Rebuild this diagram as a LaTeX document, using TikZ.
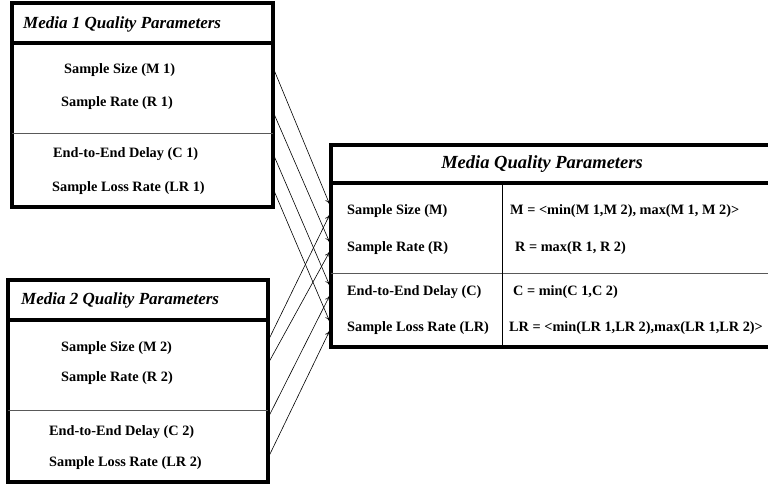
\documentclass[tikz,border=0pt]{standalone}
\usepackage{fontspec}
\setmainfont{Liberation Serif}
\usetikzlibrary{arrows.meta}
\tikzset{
  outer/.style={line width=3.2pt},
  titlediv/.style={line width=3.2pt},
  thindiv/.style={line width=0.9pt, draw=black!65},
  ttl/.style={font=\fontsize{17}{19}\selectfont\bfseries\itshape, inner sep=0pt},
  ttlbig/.style={font=\fontsize{18.5}{20}\selectfont\bfseries\itshape, inner sep=0pt},
  itm/.style={font=\fontsize{14.3}{16}\selectfont\bfseries, inner sep=0pt, anchor=west},
  conn/.style={line width=0.6pt, -{To[length=5pt,width=5pt]}}
}
\begin{document}
\begin{tikzpicture}[x=1pt,y=-1pt]
\useasboundingbox (0,0) rectangle (768,485);
\begin{scope}
\clip (0,0) rectangle (768,485);
% Box 1
\draw[outer] (12,3) rectangle (273,207);
\draw[titlediv] (12,43) -- (273,43);
\draw[thindiv] (12,133) -- (273,133);
\node[ttl, anchor=west] (t1) at (23,24) {Media 1 Quality Parameters};
\node[itm] (m1) at (64,70) {Sample Size (M 1)};
\node[itm] (r1) at (61,103) {Sample Rate (R 1)};
\node[itm] (c1) at (53,154) {End-to-End Delay (C 1)};
\node[itm] (l1) at (52,188) {Sample Loss Rate (LR 1)};
% Box 2
\draw[outer] (8,280) rectangle (268,482);
\draw[titlediv] (8,320) -- (268,320);
\draw[thindiv] (8,410) -- (268,410);
\node[ttl, anchor=west] (t2) at (21,300) {Media 2 Quality Parameters};
\node[itm] (m2) at (61,348) {Sample Size (M 2)};
\node[itm] (r2) at (61,378) {Sample Rate (R 2)};
\node[itm] (c2) at (49,432) {End-to-End Delay (C 2)};
\node[itm] (l2) at (49,463) {Sample Loss Rate (LR 2)};
% Box 3
\draw[outer] (331,145) rectangle (800,347);
\draw[titlediv] (331,183) -- (800,183);
\draw[thindiv] (331,273) -- (800,273);
\draw[line width=0.9pt] (502,183) -- (502,347);
\node[ttlbig] (t3) at (542,164) {Media Quality Parameters};
\node[itm] (m) at (347,211) {Sample Size (M)};
\node[itm] (r) at (347,248) {Sample Rate (R)};
\node[itm] (c) at (347,292) {End-to-End Delay (C)};
\node[itm] (l) at (347,328) {Sample Loss Rate (LR)};
\node[itm] (fm) at (510,211) {M = <min(M 1,M 2), max(M 1, M 2)>};
\node[itm] (fr) at (515,248) {R = max(R 1, R 2)};
\node[itm] (fc) at (513,292) {C = min(C 1,C 2)};
\node[itm] (fl) at (509,328) {LR = <min(LR 1,LR 2),max(LR 1,LR 2)>};
\end{scope}
% connector endpoints
\coordinate (s1a) at (274.5,71);
\coordinate (s1b) at (274.5,115);
\coordinate (s1c) at (274.5,157);
\coordinate (s1d) at (274.5,192);
\coordinate (s2a) at (269.5,338);
\coordinate (s2b) at (269.5,361);
\coordinate (s2c) at (269.5,415);
\coordinate (s2d) at (269.5,455);
\coordinate (e1a) at (329.5,204);
\coordinate (e1b) at (329.5,242);
\coordinate (e1c) at (329.5,285);
\coordinate (e1d) at (329.5,321);
\coordinate (e2a) at (329.5,215);
\coordinate (e2b) at (329.5,252);
\coordinate (e2c) at (329.5,296);
\coordinate (e2d) at (329.5,331);
\draw[conn] (s1a) -- (e1a);
\draw[conn] (s1b) -- (e1b);
\draw[conn] (s1c) -- (e1c);
\draw[conn] (s1d) -- (e1d);
\draw[conn] (s2a) -- (e2a);
\draw[conn] (s2b) -- (e2b);
\draw[conn] (s2c) -- (e2c);
\draw[conn] (s2d) -- (e2d);
\end{tikzpicture}
\end{document}
